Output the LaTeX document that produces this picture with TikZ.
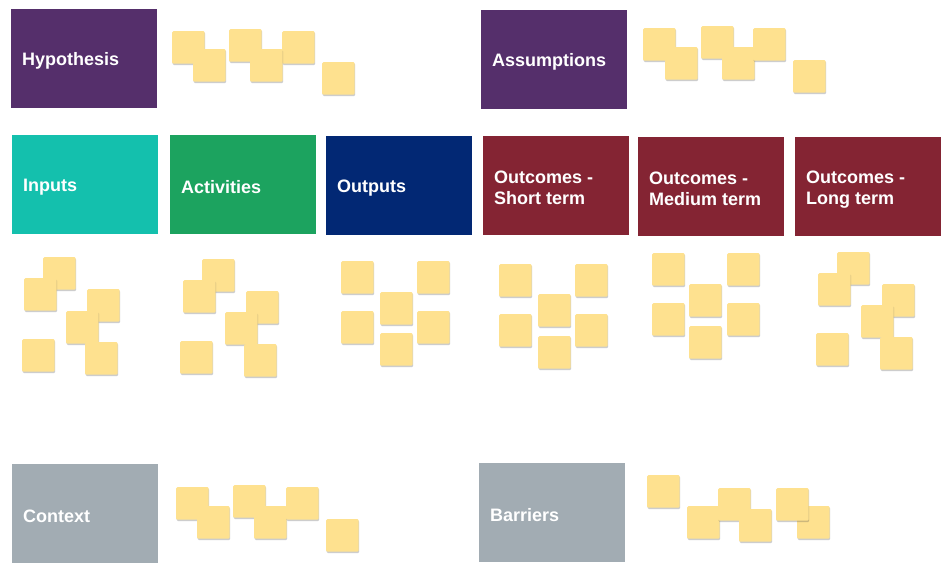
\documentclass[tikz,border=0pt]{standalone}
\usepackage{fontspec}
\setmainfont{Liberation Sans}
\usetikzlibrary{shadows}
\definecolor{cpurple}{HTML}{552F6B}
\definecolor{cteal}{HTML}{14C0AD}
\definecolor{cgreen}{HTML}{1CA35F}
\definecolor{cnavy}{HTML}{022874}
\definecolor{cmaroon}{HTML}{842433}
\definecolor{cgray}{HTML}{A2ACB3}
\definecolor{cyellow}{HTML}{FEE18F}
\tikzset{
  header/.style={anchor=north west, minimum width=146pt, minimum height=99pt, inner sep=0pt},
  htext/.style={anchor=west, inner sep=0pt, align=left, text=white,
    font=\fontsize{18}{21}\selectfont\bfseries},
  sticky/.style={anchor=north west, fill=cyellow, minimum width=32.5pt, minimum height=32.5pt,
    inner sep=0pt, rounded corners=1.2pt,
    drop shadow={shadow xshift=0.5pt, shadow yshift=-1.3pt, opacity=0.28, fill=black!70}}
}
\newcommand\stk[3]{\node[sticky] (#1) at (#2,#3) {};}
\newcommand\hdr[5]{\node[header, fill=#4] (#1) at (#2,#3) {};
  \node[htext] (#1-t) at ([xshift=11pt,yshift=-2.5pt]#1.west) {#5};}
\begin{document}
\begin{tikzpicture}[x=1pt,y=-1pt]
\path[fill=white,use as bounding box] (0,0) rectangle (949,576);
% header boxes
\hdr{hyp}{11}{9}{cpurple}{Hypothesis}
\hdr{ass}{481}{10}{cpurple}{Assumptions}
\hdr{inp}{12}{135}{cteal}{Inputs}
\hdr{act}{170}{135}{cgreen}{Activities}
\hdr{out}{326}{136}{cnavy}{Outputs}
\hdr{ost}{483}{136}{cmaroon}{Outcomes -\\Short term}
\hdr{omt}{638}{137}{cmaroon}{Outcomes -\\Medium term}
\hdr{olt}{795}{137}{cmaroon}{Outcomes -\\Long term}
\hdr{ctx}{12}{464}{cgray}{Context}
\hdr{bar}{479}{463}{cgray}{Barriers}
% hypothesis stickies
\stk{h1}{172}{31}\stk{h2}{193}{49}\stk{h3}{229}{29}\stk{h5}{282}{31}\stk{h4}{250}{49}\stk{h6}{322}{62}
% assumptions stickies
\stk{a1}{643}{28}\stk{a2}{665}{47}\stk{a3}{701}{26}\stk{a4}{722}{47}\stk{a5}{753}{28}\stk{a6}{793}{60}
% inputs
\stk{i1}{43}{257}\stk{i2}{24}{278}\stk{i3}{87}{289}\stk{i4}{66}{311}\stk{i5}{22}{339}\stk{i6}{85}{342}
% activities
\stk{v1}{202}{259}\stk{v2}{183}{280}\stk{v3}{246}{291}\stk{v4}{225}{312}\stk{v5}{180}{341}\stk{v6}{244}{344}
% outputs
\stk{o1}{341}{261}\stk{o2}{417}{261}\stk{o3}{380}{292}\stk{o4}{341}{311}\stk{o5}{417}{311}\stk{o6}{380}{333}
% short term
\stk{s1}{499}{264}\stk{s2}{575}{264}\stk{s3}{538}{294}\stk{s4}{499}{314}\stk{s5}{575}{314}\stk{s6}{538}{336}
% medium term
\stk{m1}{652}{253}\stk{m2}{727}{253}\stk{m3}{689}{284}\stk{m4}{652}{303}\stk{m5}{727}{303}\stk{m6}{689}{326}
% long term
\stk{l1}{837}{252}\stk{l2}{818}{273}\stk{l3}{882}{284}\stk{l4}{861}{305}\stk{l5}{816}{333}\stk{l6}{880}{337}
% context
\stk{c1}{176}{487}\stk{c2}{197}{506}\stk{c3}{233}{485}\stk{c4}{254}{506}\stk{c5}{286}{487}\stk{c6}{326}{519}
% barriers
\stk{b1}{647}{475}\stk{b2}{687}{506}\stk{b3}{718}{488}\stk{b4}{739}{509}\stk{b6}{797}{506}\stk{b5}{776}{488}
\end{tikzpicture}
\end{document}
